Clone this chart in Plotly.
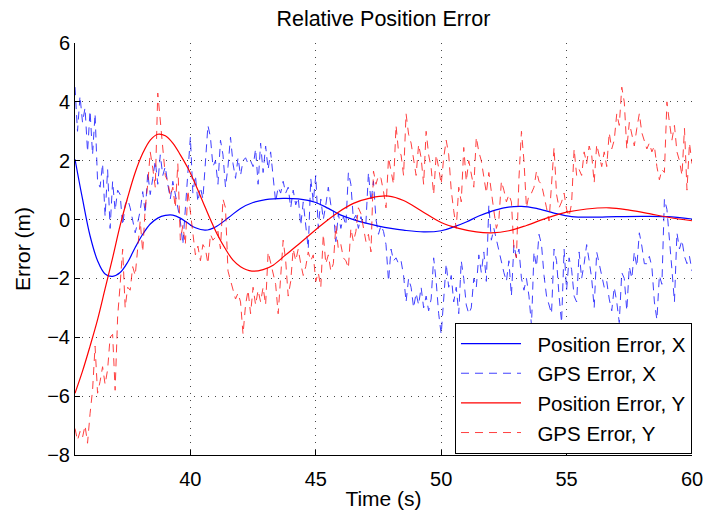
import numpy as np
import plotly.graph_objects as go

# ---- data ----
# GPS samples every 0.1 s from 35.4 s to 60.0 s
gps_time = np.round(np.arange(354, 601) / 10.0, 1)

gps_x = [
    4.5, 3.0, 4.2, 3.3, 3.8, 2.3,
    3.7, 2.2, 3.6, 1.3, 1.1, 1.9, 0.1, 1.7, -0.3, 1.3,
    0.3, 1.0, 0.85, -0.2, 0.5, 0.7, 0.4, 0.0, -0.45, -0.1,
    0.3, 0.95, 0.2, 1.6, 0.85, 1.4, 2.0, 1.2, 2.2, 1.5,
    1.8, 1.2, 0.7, 1.3, 0.85, 0.5, -0.05, -0.85, 0.3, 1.5,
    2.8, 0.9, 1.5, 0.6, 1.1, 0.7, 2.0, 3.2, 2.8, 1.8,
    2.0, 1.2, 2.7, 2.2, 1.1, 1.8, 2.8, 1.9, 1.4, 2.1,
    1.5, 2.0, 2.1, 1.9, 2.0, 1.8, 2.4, 1.2, 2.6, 1.6,
    2.5, 1.7, 2.3, 1.5, 0.6, 1.1, 0.9, 1.3, 0.9, 1.1,
    0.4, 1.0, 0.5, 0.75, -0.2, 0.6, -0.3, -1.0, 1.4, 0.6,
    1.5, -0.3, 0.7, 0.0, 0.5, 1.1, 0.5, 0.3, -0.75, 0.2,
    -0.3, 0.1, -0.2, 1.6, 1.2, 0.0, 0.15, -0.3, 0.1, -0.2,
    -0.1, 1.6, 0.6, 1.3, 0.0, -0.5, -0.2, -0.4, -0.85, -2.1,
    -1.0, -1.4, -1.3, -1.5, -1.4, -1.9, -2.8, -2.0, -2.3, -3.0,
    -2.5, -2.9, -2.3, -3.0, -2.6, -3.1, -2.7, -1.3, -2.1, -3.2,
    -3.9, -2.6, -1.5, -2.3, -1.9, -2.8, -2.3, -3.2, -1.4, -2.0,
    -2.9, -3.2, -3.0, -2.0, -2.3, -1.2, -1.8, -1.1, -2.1, 0.5,
    -0.7, -0.3, -0.7, -1.1, -1.5, -1.8, -2.1, -1.4, -2.6, -0.85,
    -1.3, -1.0, -2.0, -2.4, -2.0, -2.6, -3.6, -1.1, -1.6, -0.5,
    -0.85, -1.9, -2.6, -2.9, -3.2, -1.0, -1.4, -2.6, -3.5, -1.0,
    -2.4, -1.3, -1.7, -2.6, -2.8, -1.1, -2.0, -1.5, -0.85, -1.4,
    -2.0, -3.0, -1.1, -1.5, -1.9, -2.3, -2.1, -2.7, -3.1, -2.3,
    -2.8, -3.5, -1.8, -2.0, -3.1, -1.6, -2.0, -1.1, -1.6, -0.45,
    -0.9, -1.5, -1.5, -1.25, -1.6, -2.8, -3.4, -1.9, -2.2, 0.7,
    0.35, -0.55, -1.7, -2.8, -0.45, -1.0, -0.7, -1.25, -1.5, -1.25,
    -1.75,
]

gps_y = [
    -7.1, -7.5, -7.2, -7.4, -7.0, -7.6,
    -6.6, -5.8, -4.3, -5.9, -5.5, -5.0, -5.6, -5.1, -4.0, -3.9,
    -5.8, -3.3, -2.2, -1.0, -3.0, -2.3, -2.4, -1.6, -1.9, -0.9,
    -0.05, -1.1, 0.4, 1.2, 2.3, 1.75, 1.1, 4.3, 3.4, 2.4,
    1.5, 1.3, 0.8, 1.1, 0.4, 1.9, -0.7, -0.2, -0.85, 1.0,
    0.3, -0.6, -1.2, -0.9, -1.4, -0.85, -1.0, -1.5, -0.5, -0.7,
    -0.6, -0.4, -1.0, 0.7, 0.4, -1.75, -2.1, -2.4, -2.7, -2.5,
    -2.8, -3.9, -2.9, -2.4, -3.2, -2.3, -2.9, -2.4, -2.8, -2.3,
    -2.9, -1.1, -1.5, -1.9, -2.2, -3.2, -1.9, -0.7, -1.4, -2.6,
    -2.1, -1.0, -1.4, -1.0, -1.5, -1.9, -1.6, -1.1, -1.4, -1.2,
    -2.1, -1.8, -2.3, -0.5, -1.5, -1.2, -1.75, -1.5, -0.2, -1.0,
    -0.85, -1.3, -1.4, -1.65, -0.3, -0.75, -0.4, 0.4, 0.2, -0.3,
    -0.75, -0.5, -1.1, 1.65, 1.2, 1.5, 1.4, 0.95, 0.4, 2.1,
    1.65, 1.2, 3.2, 2.3, 2.2, 1.5, 3.6, 2.9, 2.6, 2.0,
    1.5, 2.55, 2.1, 1.2, 3.0, 2.2, 1.75, 0.85, 2.2, 1.75,
    1.2, 2.1, 2.7, 2.2, 1.0, 0.3, -0.3, 1.1, 0.6, 2.45,
    1.3, 2.0, 1.5, 1.1, 2.8, 2.3, 2.0, 1.5, 0.9, 1.6,
    0.85, 0.3, -0.3, 0.0, 1.3, 1.0, 0.6, 0.85, 0.6, -1.0,
    -1.3, 1.4, 3.0, 2.0, 0.4, 0.85, 0.9, 1.1, 1.65, 1.3,
    1.2, 0.85, 0.4, -0.05, 1.4, 2.45, 0.85, 0.4, 0.6, 0.9,
    0.35, 0.1, 0.55, 2.4, 1.5, 1.7, 1.5, 2.3, 1.9, 2.5,
    2.2, 1.25, 2.55, 2.15, 1.8, 2.3, 1.8, 2.95, 2.4, 2.7,
    3.6, 3.2, 4.5, 4.0, 2.4, 3.3, 2.9, 2.5, 3.1, 3.6,
    2.95, 2.7, 2.4, 2.6, 2.3, 2.5, 1.8, 1.35, 1.7, 1.6,
    4.0, 3.3, 2.7, 3.2, 2.3, 2.0, 1.5, 3.1, 1.0, 2.6,
    1.9,
]

pos_x_time = [35.4, 35.7, 36.0, 36.3, 36.6, 36.9, 37.2, 37.5, 37.8, 38.1, 38.4, 38.7,
              39.0, 39.3, 39.6, 39.9, 40.2, 40.6, 41.0, 41.5, 42.0, 42.5, 43.0, 43.7,
              44.3, 45.0, 45.5, 46.0, 46.5, 47.0, 47.5, 48.0, 48.5, 49.3, 50.0, 50.5,
              51.0, 51.5, 52.0, 52.5, 53.2, 53.8, 54.5, 55.2, 56.0, 57.0, 58.0, 59.0, 60.0]
pos_x = [2.05, 0.7, -0.55, -1.4, -1.85, -1.93, -1.8, -1.45, -0.95, -0.5, -0.15, 0.05,
         0.14, 0.15, 0.05, -0.12, -0.28, -0.36, -0.25, 0.05, 0.38, 0.58, 0.68, 0.72,
         0.70, 0.58, 0.38, 0.15, 0.0, -0.12, -0.22, -0.3, -0.36, -0.42, -0.38, -0.25,
         -0.08, 0.12, 0.28, 0.4, 0.45, 0.38, 0.22, 0.1, 0.08, 0.1, 0.11, 0.1, 0.02]

pos_y_time = [35.4, 35.7, 36.0, 36.3, 36.6, 36.9, 37.2, 37.5, 37.8, 38.1, 38.4, 38.7,
              39.0, 39.3, 39.6, 39.9, 40.2, 40.5, 40.8, 41.1, 41.4, 41.7, 42.0, 42.45,
              42.9, 43.3, 43.8, 44.4, 45.2, 45.9, 46.5, 47.2, 47.9, 48.5, 49.2, 50.0,
              50.7, 51.4, 52.0, 52.7, 53.4, 54.2, 55.0, 55.8, 56.7, 57.5, 58.3, 59.1, 60.0]
pos_y = [-5.9, -5.15, -4.3, -3.4, -2.35, -1.3, -0.2, 0.75, 1.6, 2.25, 2.7, 2.9,
         2.85, 2.6, 2.2, 1.75, 1.2, 0.6, 0.0, -0.55, -1.0, -1.38, -1.6, -1.75,
         -1.7, -1.55, -1.2, -0.78, -0.2, 0.25, 0.55, 0.74, 0.8, 0.65, 0.3, -0.1,
         -0.3, -0.42, -0.45, -0.38, -0.2, 0.05, 0.25, 0.36, 0.4, 0.32, 0.2, 0.07, -0.04]

x_ticks = [40, 45, 50, 55, 60]
y_ticks = [-8, -6, -4, -2, 0, 2, 4, 6]
series_names = ["Position Error, X", "GPS Error, X", "Position Error, Y", "GPS Error, Y"]

BLUE = "rgb(0,0,255)"
RED = "rgb(255,0,0)"
FONT = "Liberation Sans, Arial, Helvetica, sans-serif"
PAD = "\u00a0\u00a0"

fig = go.Figure()
fig.add_trace(go.Scatter(x=pos_x_time, y=pos_x, mode="lines", name=PAD + series_names[0],
                         line=dict(color=BLUE, width=1.2, shape="spline", smoothing=1.0)))
fig.add_trace(go.Scatter(x=gps_time, y=gps_x, mode="lines", name=PAD + series_names[1],
                         line=dict(color=BLUE, width=1.0, dash="8px,6px"),
                         opacity=0.75))
fig.add_trace(go.Scatter(x=pos_y_time, y=pos_y, mode="lines", name=PAD + series_names[2],
                         line=dict(color=RED, width=1.2, shape="spline", smoothing=1.0)))
fig.add_trace(go.Scatter(x=gps_time, y=gps_y, mode="lines", name=PAD + series_names[3],
                         line=dict(color=RED, width=1.0, dash="8px,6px"),
                         opacity=0.75))

axis_common = dict(
    showline=True, linecolor="black", linewidth=1,
    ticks="inside", ticklen=5, tickcolor="black", tickwidth=1,
    showgrid=True, gridcolor="rgba(40,40,40,0.85)", gridwidth=1, griddash="1px,6px",
    zeroline=False, mirror=False, automargin=False,
    tickfont=dict(family=FONT, size=20, color="black"),
)

fig.update_layout(
    width=706, height=511,
    margin=dict(l=75, r=14, t=43, b=56),
    paper_bgcolor="white", plot_bgcolor="white",
    title=dict(text="Relative Position Error", x=0.543, xanchor="center",
               y=0.963, yanchor="middle",
               font=dict(family=FONT, size=21.5, color="black")),
    xaxis=dict(range=[35.4, 60], tickvals=x_ticks, ticktext=[str(v) for v in x_ticks],
               ticklabelstandoff=6,
               title=dict(text="Time (s)", font=dict(family=FONT, size=21, color="black"), standoff=2),
               **axis_common),
    yaxis=dict(range=[-8, 6], tickvals=y_ticks, ticktext=[str(v).replace("-", "\u2212") for v in y_ticks],
               title=dict(text="Error (m)", font=dict(family=FONT, size=21, color="black"), standoff=10),
               **axis_common),
    legend=dict(x=1.0, y=0.003, xanchor="right", yanchor="bottom",
                bgcolor="white", bordercolor="black", borderwidth=1,
                font=dict(family=FONT, size=20.5, color="black"),
                itemwidth=60),
    showlegend=True,
)

fig.write_html("out.html")
